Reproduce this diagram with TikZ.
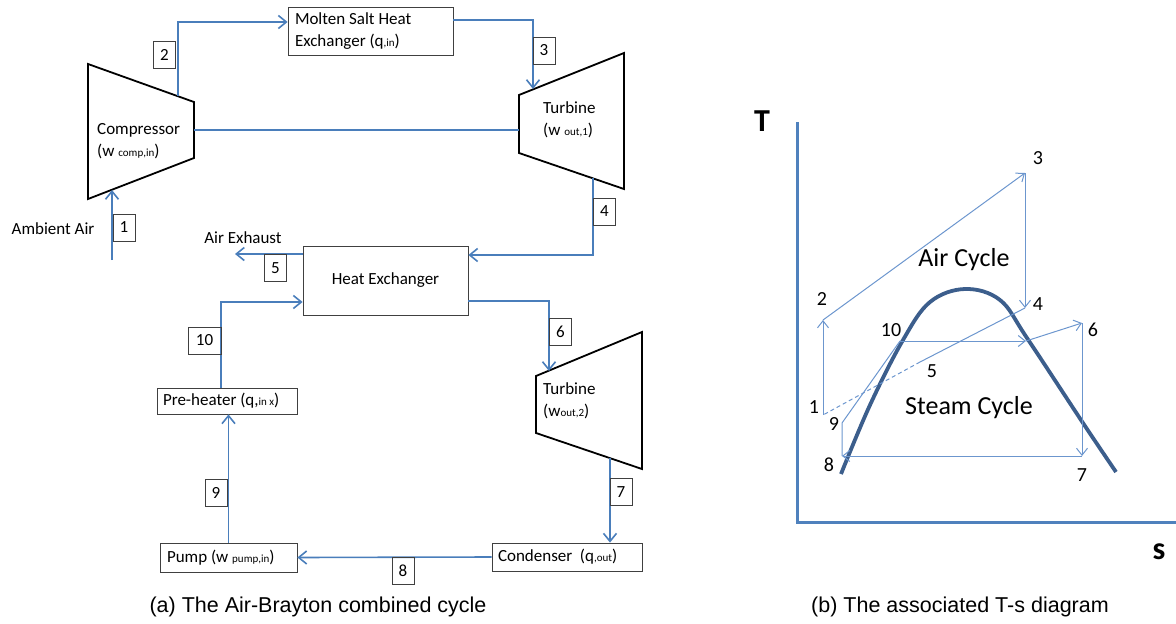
\documentclass[tikz,border=0pt]{standalone}
\usepackage{fontspec}
\setmainfont{Carlito}
\newfontfamily\capfont{Liberation Sans}
\usetikzlibrary{arrows.meta}

\definecolor{pipeblue}{RGB}{74,126,187}
\definecolor{tsblue}{RGB}{108,150,206}
\definecolor{domeblue}{RGB}{60,94,140}
\definecolor{axisblue}{RGB}{79,129,189}

% small lettering for the w and q indices
\newcommand{\idx}[1]{{\fontsize{11}{11}\selectfont #1}}

\begin{document}
\begin{tikzpicture}[x=1pt, y=-1pt,
    unit/.style={draw=black!75, line width=0.8pt, inner sep=0pt,
                 font=\fontsize{17}{22}\selectfont},
    tag/.style={draw=black!75, line width=0.8pt, inner sep=0pt,
                minimum width=22pt, minimum height=27pt,
                font=\fontsize{17}{20}\selectfont},
    txt/.style={inner sep=0pt, align=left, font=\fontsize{17}{22}\selectfont},
    machine/.style={draw, line width=1.8pt, line join=miter},
    pipe/.style={pipeblue, line width=1.6pt},
    flow/.style={pipe, -{Straight Barb[length=8pt, width=13pt]}},
    tsline/.style={tsblue, line width=1pt},
    tsarrow/.style={tsline, -{Straight Barb[length=7pt, width=11pt]}},
    ptnum/.style={inner sep=0pt, font=\fontsize{20}{20}\selectfont},
    figcap/.style={inner sep=0pt, font=\capfont\fontsize{21.5}{22}\selectfont},
  ]
    \useasboundingbox (0,0) rectangle (1176,624);

    % Air loop: compressor and gas turbine
    \draw[machine] (88,64) -- (194,102) -- (194,158) -- (88,199) -- cycle;
    \draw[machine] (519,95) -- (624,53) -- (624,189) -- (519,153) -- cycle;
    \node[txt, anchor=west] (comp)  at (97,141)  {Compressor\\(w \idx{comp,in})};
    \node[txt, anchor=west] (turb1) at (543,120) {Turbine\\(w \idx{out,1})};
    \coordinate (cin)    at (112,190);
    \coordinate (cout)   at (178,96);
    \coordinate (cshaft) at (194,130);
    \coordinate (tin)    at (533,89);
    \coordinate (tout)   at (593,178);
    \coordinate (tshaft) at (519,130);
    \coordinate (air)     at (112,260);
    \coordinate (exhaust) at (235,254);

    % Heat exchangers
    \node[unit, minimum width=165pt, minimum height=48pt, text width=151pt,
          align=flush left] (salt) at (370.5,31) {Molten Salt Heat\\Exchanger (q\idx{,in})};
    \node[unit, minimum width=165pt, minimum height=69pt] (hx) at (385.5,280.5)
          {Heat Exchanger};

    % Steam loop
    \draw[machine] (536,376) -- (642,332) -- (642,469) -- (536,433) -- cycle;
    \node[txt, anchor=west] (turb2) at (543,401) {Turbine\\(w\idx{out,2})};
    \coordinate (t2in)  at (549,371);
    \coordinate (t2out) at (610,458);
    \node[unit, minimum width=150pt, minimum height=28pt, text width=138pt,
          align=flush left] (cond) at (567,557) {Condenser\ \ (q\idx{,out})};
    \node[unit, minimum width=137pt, minimum height=29pt, text width=123pt,
          align=flush left] (pump) at (228.5,557.5) {Pump (w \idx{pump,in})};
    \node[unit, minimum width=140pt, minimum height=26pt, text width=128pt,
          align=flush left] (pre) at (227,401) {Pre-heater (q,\idx{in x})};

    % Side texts
    \node[txt] (ambient) at (53,229)  {Ambient Air};
    \node[txt] (exh)     at (243,238) {Air Exhaust};

    % Air flow
    \draw[flow] (air) -- (cin);
    \draw[flow] (cout) |- ([yshift=9pt]salt.west);
    \draw[flow] ([yshift=11pt]salt.east) -| (tin);
    \draw[pipe] (cshaft) -- (tshaft);
    \draw[flow] (tout) |- ([yshift=25.5pt]hx.east);
    \draw[flow] ([yshift=26.5pt]hx.west) -- (exhaust);

    % Water / steam flow
    \draw[flow] ([yshift=-20.5pt]hx.east) -| (t2in);
    \draw[flow] (t2out) -- (t2out |- cond.north);
    \draw[flow] (cond.west) -- (pump.east);
    \draw[flow] (pump.north) -- (pump.north |- pre.south);
    \draw[flow] ([xshift=-6pt]pre.north) |- ([yshift=-21.5pt]hx.west);

    % State numbers
    \node[tag] (s1) at (124,227.5) {1};
    \node[tag] (s2) at (164.5,54.5) {2};
    \node[tag] (s3) at (544,50.5) {3};
    \node[tag] (s4) at (604.5,211.5) {4};
    \node[tag] (s5) at (275.5,268) {5};
    \node[tag] (s6) at (560.5,331.5) {6};
    \node[tag] (s7) at (621,492) {7};
    \node[tag] (s8) at (403,571) {8};
    \node[tag] (s9) at (216,493) {9};
    \node[tag, minimum width=33pt] (s10) at (204.5,340.5) {10};

    % T-s diagram axes
    \coordinate (taxis) at (797,122);
    \coordinate (saxis) at (1176,522);
    \draw[axisblue, line width=3pt] (taxis) |- (saxis);
    \node[inner sep=0pt, font=\bfseries\fontsize{32}{32}\selectfont] (tlab) at (762,121) {T};
    \node[inner sep=0pt, font=\bfseries\fontsize{32}{32}\selectfont] (slab) at (1159,552) {s};

    % saturation dome
    \draw[domeblue, line width=3.8pt] plot[smooth, tension=0.6] coordinates {
        (841,474) (870,405) (903,340) (930,302) (965,289) (1000,300)
        (1027,338) (1083,423) (1116,472)};

    % cycle states
    \coordinate (p1)  at (823,415);
    \coordinate (p2)  at (823,320);
    \coordinate (p3)  at (1025,173);
    \coordinate (p4)  at (1025,308);
    \coordinate (p5)  at (920,362);
    \coordinate (p6)  at (1082,323);
    \coordinate (p7)  at (1082,456);
    \coordinate (p8)  at (842,456);
    \coordinate (p9)  at (842,423);
    \coordinate (p10) at (900,341);
    \coordinate (pm)  at (1026,341);

    % Air cycle
    \draw[tsarrow] (p1) -- (p2);
    \draw[tsarrow] (p2) -- (p3);
    \draw[tsarrow] (p3) -- (p4);
    \draw[tsline] (p4) -- (p5);
    \draw[tsline, dashed, dash pattern=on 4pt off 3pt] (p5) -- (p1);

    % Steam cycle
    \draw[tsline] (p8) -- (p9) -- (p10);
    \draw[tsarrow] (p10) -- (pm);
    \draw[tsarrow] (pm) -- (p6);
    \draw[tsarrow] (p6) -- (p7);
    \draw[tsarrow] (p7) -- (p8);

    \node[ptnum] (n1)  at (814,407) {1};
    \node[ptnum] (n2)  at (822,299) {2};
    \node[ptnum] (n3)  at (1038,158) {3};
    \node[ptnum] (n4)  at (1038,304) {4};
    \node[ptnum] (n5)  at (932,371) {5};
    \node[ptnum] (n6)  at (1093,330) {6};
    \node[ptnum] (n7)  at (1082,475) {7};
    \node[ptnum] (n8)  at (829,465) {8};
    \node[ptnum] (n9)  at (834,424) {9};
    \node[ptnum] (n10) at (891,330) {10};

    \node[inner sep=0pt, font=\fontsize{26}{26}\selectfont] (aircyc) at (964,260) {Air Cycle};
    \node[inner sep=0pt, font=\fontsize{26}{26}\selectfont] (stmcyc) at (969,408) {Steam Cycle};

    % Captions
    \node[figcap] (capa) at (318,607) {(a) The Air-Brayton combined cycle};
    \node[figcap] (capb) at (960,607) {(b) The associated T-s diagram};
  \end{tikzpicture}
\end{document}
